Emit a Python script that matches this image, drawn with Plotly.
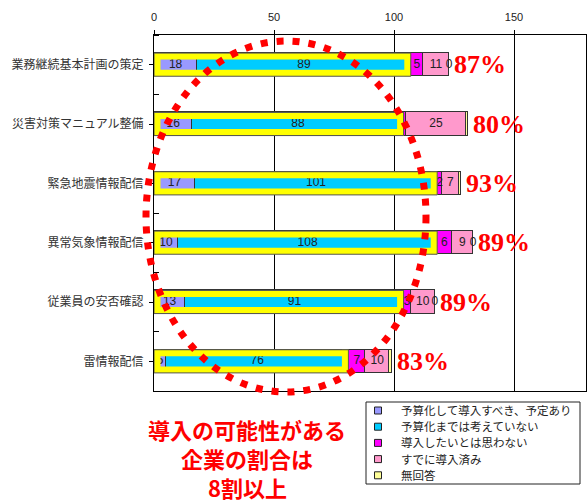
import plotly.graph_objects as go

# Survey items (top to bottom) and answer counts per item
categories = [
    "業務継続基本計画の策定",
    "災害対策マニュアル整備",
    "緊急地震情報配信",
    "異常気象情報配信",
    "従業員の安否確認",
    "雷情報配信",
]
series_names = [
    "予算化して導入すべき、予定あり",
    "予算化までは考えていない",
    "導入したいとは思わない",
    "すでに導入済み",
    "無回答",
]
planned = [18, 16, 17, 10, 13, 5]
not_budgeted = [89, 88, 101, 108, 91, 76]
not_wanted = [5, 1, 2, 6, 3, 7]
already = [11, 25, 7, 9, 10, 10]
no_answer = [0, 1, 1, 0, 0, 1]
x_ticks = [0, 50, 100, 150]

series_values = [planned, not_budgeted, not_wanted, already, no_answer]
colors = ["#9999FF", "#00CCFF", "#FF00FF", "#FF99CC", "#FFFF99"]

JP = "Liberation Sans, Noto Sans CJK JP, sans-serif"
BAR_W = 0.39
FRAME_PX = 6.5

# page geometry (pixels)
W, H = 587, 502
ML, MR, MT, MB = 154, 1, 35, 111
PW, PH = W - ML - MR, H - MT - MB


def px_x(x):
    return (x - ML) / PW


def px_y(y):
    return (H - MB - y) / PH


ypos = list(range(len(categories)))

fig = go.Figure()

for name, vals, col in zip(series_names, series_values, colors):
    fig.add_trace(go.Bar(
        y=ypos, x=vals, name=name, orientation="h", width=BAR_W,
        marker=dict(color=col, line=dict(color="#333333", width=1)),
        hoverinfo="x+name", showlegend=False,
    ))

# segment value labels at each segment's centre (1-wide slivers are too narrow to label)
lab_x, lab_y, lab_t = [], [], []
for i in ypos:
    left = 0
    for vals in series_values:
        v = vals[i]
        if v != 1:
            lab_x.append(left + v / 2)
            lab_y.append(i)
            lab_t.append(str(v))
        left += v
fig.add_trace(go.Scatter(
    x=lab_x, y=lab_y, text=lab_t, mode="text", showlegend=False,
    textfont=dict(family=JP, size=12, color="#222222"), hoverinfo="skip",
    cliponaxis=False,
))

shapes = []
annotations = []
for i in ypos:
    potential = planned[i] + not_budgeted[i]
    total = potential + not_wanted[i] + already[i] + no_answer[i]
    top, bot = i - BAR_W / 2, i + BAR_W / 2
    strip = dict(type="rect", xref="x", yref="y", fillcolor="#FFFF00",
                 line=dict(width=0), layer="above")
    # yellow frame around the "could adopt" part of each bar
    shapes.append(dict(strip, xsizemode="pixel", xanchor=0, x0=0, x1=FRAME_PX, y0=top, y1=bot))
    shapes.append(dict(strip, xsizemode="pixel", xanchor=potential, x0=-FRAME_PX, x1=0, y0=top, y1=bot))
    shapes.append(dict(strip, ysizemode="pixel", yanchor=top, y0=0, y1=-FRAME_PX, x0=0, x1=potential))
    shapes.append(dict(strip, ysizemode="pixel", yanchor=bot, y0=0, y1=FRAME_PX, x0=0, x1=potential))
    shapes.append(dict(type="rect", xref="x", yref="y", x0=0, x1=potential, y0=top, y1=bot,
                       line=dict(color="#555555", width=1), layer="above"))
    # share of companies that may adopt (excluding no-answer)
    pct = round(100 * potential / (total - no_answer[i]))
    annotations.append(dict(
        x=total, y=i, xref="x", yref="y", text=f"{pct}%", showarrow=False,
        xanchor="left", yanchor="middle", xshift=3,
        font=dict(family="Liberation Serif, serif", size=26, color="#FF0000", weight="bold"),
    ))

# red dotted ellipse emphasising the adoption potential
shapes.append(dict(type="circle", xref="paper", yref="paper",
                   x0=px_x(146), x1=px_x(426), y0=px_y(392), y1=px_y(41),
                   line=dict(color="#FF0000", width=7, dash="7px,9px"), layer="above"))

# headline under the chart
for line, yc in zip(["導入の可能性がある", "企業の割合は", "8割以上"], [429, 458, 487]):
    annotations.append(dict(
        x=px_x(247), y=px_y(yc), xref="paper", yref="paper",
        xanchor="center", yanchor="middle", text=line, showarrow=False,
        font=dict(family="Noto Sans CJK JP, sans-serif", size=22, color="#FF0000", weight="bold"),
    ))

# legend box
shapes.append(dict(type="rect", xref="paper", yref="paper",
                   x0=px_x(366), x1=px_x(580), y0=px_y(484), y1=px_y(402),
                   line=dict(color="#222222", width=1), fillcolor="white", layer="above"))
for k, (name, col) in enumerate(zip(series_names, colors)):
    yc = 410.5 + k * 16.2
    shapes.append(dict(type="rect", xref="paper", yref="paper",
                       x0=px_x(374.5), x1=px_x(381.5), y0=px_y(yc + 3.5), y1=px_y(yc - 3.5),
                       line=dict(color="#222222", width=1), fillcolor=col, layer="above"))
    annotations.append(dict(
        x=px_x(399), y=px_y(yc), xref="paper", yref="paper",
        xanchor="left", yanchor="middle", text=name, showarrow=False,
        font=dict(family=JP, size=11.5, color="#222222"),
    ))

fig.update_layout(
    width=W, height=H,
    margin=dict(l=ML, r=MR, t=MT, b=MB),
    barmode="stack", bargap=0,
    plot_bgcolor="white", paper_bgcolor="white",
    shapes=shapes, annotations=annotations,
    font=dict(family=JP, size=12, color="#333333"),
    showlegend=False,
    xaxis=dict(
        side="top", range=[0, 180], tickvals=x_ticks,
        showgrid=True, gridcolor="#000000", gridwidth=1,
        showline=True, linecolor="#000000", linewidth=1, mirror=True,
        ticks="outside", ticklen=4, tickcolor="#000000",
        ticklabelstandoff=5,
        tickfont=dict(family=JP, size=11, color="#222222"),
        zeroline=False, fixedrange=True,
    ),
    yaxis=dict(
        range=[len(categories) - 0.5, -0.5],
        tickvals=ypos, ticktext=categories,
        showgrid=False, zeroline=False,
        showline=True, linecolor="#000000", linewidth=1, mirror=True,
        ticks="outside", ticklen=4, tickcolor="#000000",
        minor=dict(tickvals=[k - 0.5 for k in range(len(categories) + 1)],
                   ticks="inside", ticklen=5, tickcolor="#000000", showgrid=False),
        ticklabelstandoff=3,
        tickfont=dict(family=JP, size=12, color="#333333"),
        fixedrange=True,
    ),
)

fig.write_html("out.html")
